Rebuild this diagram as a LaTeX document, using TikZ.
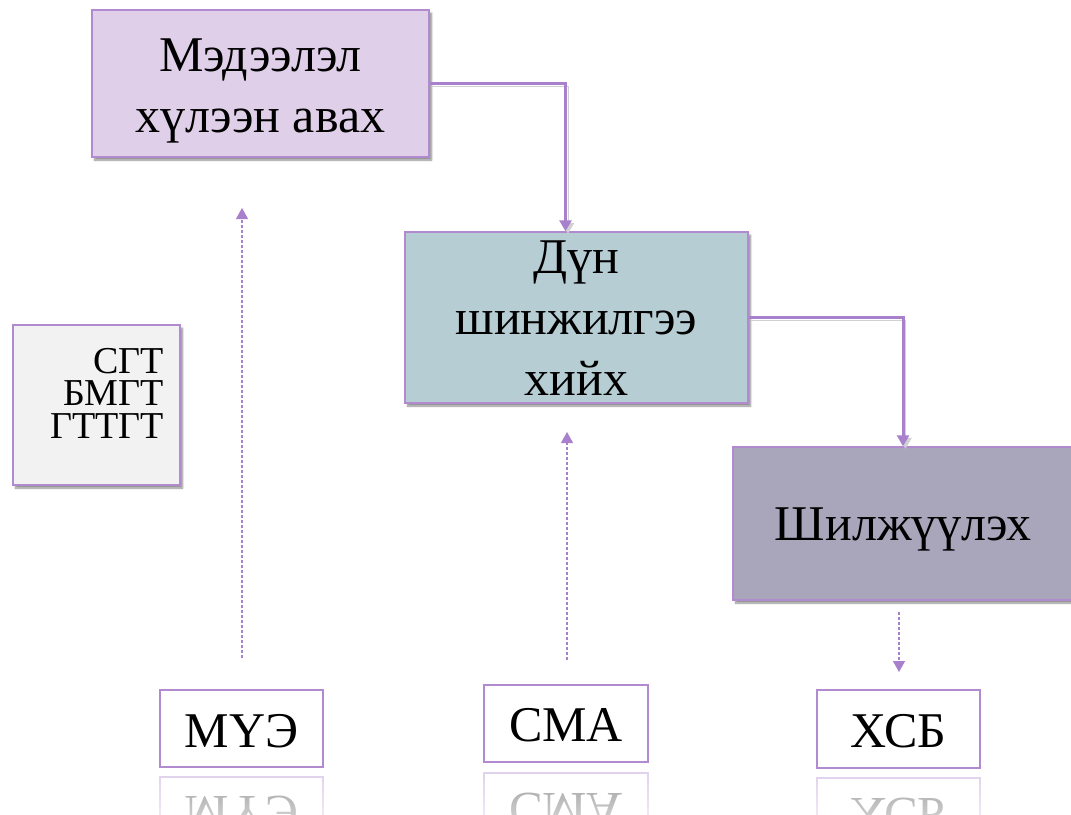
\documentclass[tikz,border=0pt]{standalone}
\usepackage{fontspec}
\setmainfont{Liberation Serif}
\usetikzlibrary{arrows.meta,shadows.blur,fadings}
\definecolor{bord}{RGB}{177,138,208}
\definecolor{arr}{RGB}{168,128,204}
\definecolor{fillA}{RGB}{224,207,233}
\definecolor{fillB}{RGB}{183,205,212}
\definecolor{fillC}{RGB}{169,166,188}
\definecolor{fillL}{RGB}{242,242,242}
\tikzfading[name=fadedown, top color=transparent!100, bottom color=transparent!0]
\begin{document}
\begin{tikzpicture}[x=1pt,y=-1pt,
  box/.style={draw=bord, line width=1.5pt, rectangle, inner sep=0pt, align=center},
  lowbox/.style={box, line width=2pt, minimum width=163pt, minimum height=77pt},
  lowtxt/.style={inner sep=0pt, font=\fontsize{50}{60}\selectfont},
  shad/.style={blur shadow={shadow xshift=2.5pt, shadow yshift=-3pt, shadow blur steps=6, shadow opacity=45}},
  bigtxt/.style={inner sep=0pt, align=center, font=\fontsize{50}{61}\selectfont},
  lineshadow/.style={preaction={draw=black!18, transform canvas={xshift=2.5pt, yshift=-2.5pt}}},
  flow/.style={draw=arr, line width=3pt, -{Triangle[width=12pt,length=11pt]}},
  dashedarrow/.style={draw=arr, line width=1.2pt, dash pattern=on 3pt off 2pt, -{Triangle[width=12pt,length=11pt]}},
  refl/.style={opacity=0.4}
]
\useasboundingbox (0,0) rectangle (1071,814);

% main boxes
\node[box, shad, fill=fillA, minimum width=337pt, minimum height=147pt] (A) at (260.5,83.5) {};
\node[bigtxt] (At) at ([yshift=-7pt]A.center) {Мэдээлэл\\хүлээн авах};
\node[box, shad, fill=fillB, minimum width=343pt, minimum height=171pt] (B) at (576.5,317.5) {};
\node[bigtxt] (Bt) at ([yshift=-1pt]B.center) {Дүн\\шинжилгээ\\хийх};
\node[box, shad, fill=fillC, minimum width=340pt, minimum height=153pt] (C) at (903,523.5) {};
\node[bigtxt] (Ct) at ([yshift=-6pt]C.center) {Шилжүүлэх};

% legend box
\node[box, shad, fill=fillL, minimum width=167pt, minimum height=160pt] (L) at (96.5,405) {};
\node[anchor=north east, align=right, inner sep=0pt, font=\fontsize{38}{32.5}\selectfont] (Lt) at (164,348) {СГТ\\БМГТ\\ГТТГТ};

% bottom boxes
\node[lowbox] (M) at (241.5,728.5) {};
\node[lowtxt] (Mt) at ([yshift=-3pt]M.center) {МҮЭ};
\node[lowbox, minimum width=164pt] (S) at (566,723.5) {};
\node[lowtxt] (St) at ([yshift=-2pt]S.center) {СМА};
\node[lowbox, minimum height=78pt] (X) at (898.5,729) {};
\node[lowtxt] (Xt) at ([yshift=-2pt]X.center) {ХСБ};

% solid connectors
\draw[flow, lineshadow] (A.east) -| ([xshift=-11pt]B.north);
\draw[flow, lineshadow] (B.east) -| (C.north);

% dashed arrows
\coordinate (m1) at (242,658); \coordinate (m2) at (242,208);
\coordinate (s1) at (567,660); \coordinate (s2) at (567,432);
\coordinate (x1) at (899,612); \coordinate (x2) at (899,672);
\draw[dashedarrow] (m1) -- (m2);
\draw[dashedarrow] (s1) -- (s2);
\draw[dashedarrow] (x1) -- (x2);

% reflections
\begin{scope}[refl, shift={(0,1544)}, yscale=-1]
  \node[lowbox, transform shape] (Mr) at (241.5,728.5) {};
  \node[lowtxt, transform shape] (Mrt) at (241.5,731.5) {МҮЭ};
\end{scope}
\begin{scope}[refl, shift={(0,1535)}, yscale=-1]
  \node[lowbox, transform shape, minimum width=164pt] (Sr) at (566,723.5) {};
  \node[lowtxt, transform shape] (Srt) at (566,725.5) {СМА};
\end{scope}
\begin{scope}[refl, shift={(0,1546)}, yscale=-1]
  \node[lowbox, transform shape, minimum height=78pt] (Xr) at (898.5,729) {};
  \node[lowtxt, transform shape] (Xrt) at (898.5,731) {ХСБ};
\end{scope}
\fill[white, path fading=fadedown] (150,770) rectangle (1000,860);
\end{tikzpicture}
\end{document}
